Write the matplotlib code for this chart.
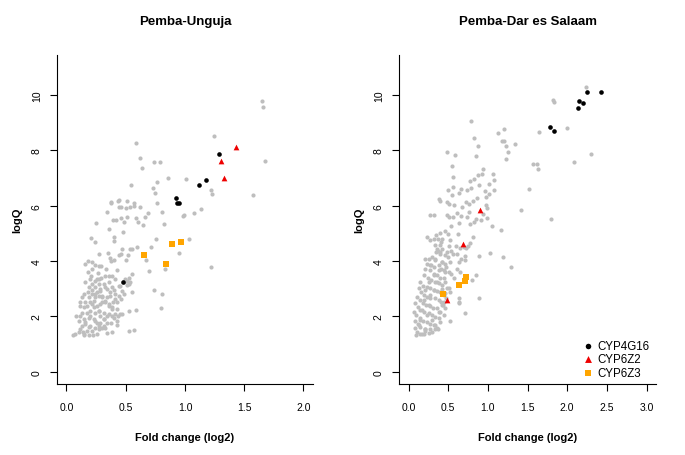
import numpy as np
import matplotlib
matplotlib.use('Agg')
import matplotlib.pyplot as plt

plt.rcParams['font.family'] = ['Liberation Sans', 'DejaVu Sans']

# ------------------------------------------------- Pemba-Unguja
pu_gray_x = [1.650, 1.655, 1.672, 1.577, 1.246, 1.216, 1.227, 1.218,
             0.588, 0.619, 0.636, 0.737, 0.787, 0.854, 1.008, 0.762, 0.728, 0.751, 0.543, 0.762,
             0.804, 0.989, 0.980, 1.073, 1.132, 0.826, 0.686, 0.664, 0.644, 0.602, 0.588, 0.619,
             0.569, 0.566, 0.538, 0.504, 0.459, 0.440, 0.378, 0.378, 0.431, 0.445, 0.510, 0.342,
             0.510, 0.462, 0.392, 0.417, 0.487, 0.249, 0.356, 0.476, 0.401, 0.401, 0.207, 0.241,
             0.754, 0.714, 1.034, 0.947, 0.594, 0.557, 0.538, 0.468, 0.457, 0.440, 0.403, 0.515,
             0.499, 0.277, 0.347, 0.370, 0.378, 0.667, 0.697, 0.835, 0.429, 0.356, 0.555, 0.524,
             0.510, 0.529, 0.737, 0.804, 0.796, 0.588, 0.529, 0.569, 0.529, 0.465, 0.431, 0.426,
             0.375, 0.342, 0.384, 0.325,
             0.179, 0.160, 0.218, 0.244, 0.272, 0.291, 0.331, 0.216, 0.179, 0.263, 0.272, 0.294,
             0.328, 0.207, 0.196, 0.238, 0.218, 0.160, 0.244, 0.193, 0.216, 0.179, 0.146, 0.132,
             0.314, 0.356, 0.328, 0.384, 0.398, 0.364, 0.286, 0.272, 0.244, 0.300, 0.342, 0.370,
             0.412, 0.440, 0.468, 0.482, 0.459, 0.426, 0.389, 0.328, 0.286, 0.258, 0.216, 0.174,
             0.146, 0.118, 0.132, 0.174, 0.202, 0.244, 0.277, 0.314, 0.342, 0.384, 0.412, 0.454,
             0.112, 0.084, 0.104, 0.146, 0.188, 0.230, 0.258, 0.286, 0.314, 0.342, 0.160, 0.132,
             0.202, 0.244, 0.272, 0.300, 0.216, 0.174, 0.140, 0.104, 0.076, 0.056, 0.188, 0.258,
             0.224, 0.146, 0.426, 0.398, 0.510, 0.482, 0.549, 0.538, 0.496, 0.454, 0.412, 0.384,
             0.202, 0.230, 0.160, 0.118, 0.286, 0.314, 0.188, 0.216, 0.258, 0.300, 0.356, 0.384,
             0.426,
             0.258, 0.272, 0.286, 0.244, 0.300, 0.328, 0.356, 0.230, 0.272, 0.202, 0.244, 0.160,
             0.188, 0.118, 0.146, 0.272, 0.314, 0.356, 0.384, 0.412, 0.342, 0.440]
pu_gray_y = [9.77, 9.57, 7.61, 6.37, 8.53, 6.58, 6.43, 3.80,
             8.27, 7.71, 7.35, 7.58, 7.58, 7.00, 6.96, 6.86, 6.65, 6.47, 6.76, 6.10,
             5.78, 5.67, 5.61, 5.75, 5.88, 5.35, 5.75, 5.58, 5.31, 5.40, 5.55, 5.95,
             6.08, 6.00, 5.96, 5.93, 5.95, 5.95, 6.14, 6.10, 6.18, 6.20, 6.16, 5.78,
             5.60, 5.55, 5.48, 5.48, 5.41, 5.36, 5.17, 5.06, 4.87, 4.73, 4.84, 4.67,
             4.80, 4.52, 4.80, 4.30, 4.52, 4.42, 4.43, 4.45, 4.25, 4.22, 4.04, 4.22,
             4.05, 4.24, 4.30, 4.10, 4.00, 4.04, 3.63, 3.73, 3.69, 3.47, 3.52, 3.40,
             3.28, 3.17, 2.94, 2.80, 2.31, 2.24, 2.18, 1.52, 1.48, 2.10, 2.02, 1.69,
             1.76, 1.39, 1.45, 1.57,
             4.01, 3.89, 3.95, 3.86, 3.83, 3.83, 3.71, 3.71, 3.59, 3.57, 3.35, 3.37,
             3.47, 3.47, 3.35, 3.29, 3.17, 3.23, 3.05, 3.05, 2.96, 2.87, 2.81, 2.69,
             3.17, 3.23, 3.05, 3.08, 2.96, 2.89, 2.93, 2.75, 2.69, 2.69, 2.69, 2.75,
             2.81, 2.75, 2.93, 2.81, 2.63, 2.51, 2.51, 2.51, 2.45, 2.39, 2.45, 2.39,
             2.33, 2.39, 2.14, 2.14, 2.20, 2.14, 2.20, 2.14, 2.02, 2.02, 2.08, 2.08,
             2.02, 2.02, 1.84, 1.90, 1.96, 1.90, 1.78, 1.78, 1.66, 1.78, 1.72, 1.66,
             1.66, 1.60, 1.54, 1.60, 1.48, 1.48, 1.42, 1.42, 1.36, 1.33, 1.33, 1.36,
             1.33, 1.33, 1.84, 1.96, 3.13, 3.23, 2.89, 3.23, 3.35, 3.11, 3.35, 3.47,
             2.51, 2.57, 2.51, 2.51, 2.02, 1.90, 2.69, 2.81, 2.87, 2.51, 2.39, 2.27,
             2.27,
             3.35, 3.17, 2.99, 2.81, 2.75, 2.57, 2.45, 2.33, 2.21, 2.03, 1.84, 1.79,
             1.61, 1.54, 1.36, 1.66, 1.91, 2.09, 2.33, 2.63, 2.99, 3.11]
pu_4g16_x = [1.291, 1.115, 1.176, 0.922, 0.933, 0.950, 0.476]
pu_4g16_y = [7.88, 6.76, 6.93, 6.28, 6.11, 6.11, 3.25]
pu_6z2_x = [1.429, 1.303, 1.325]
pu_6z2_y = [8.11, 7.63, 7.01]
pu_6z3_x = [0.894, 0.964, 0.653, 0.843]
pu_6z3_y = [4.63, 4.70, 4.23, 3.88]

# ------------------------------------------------- Pemba-Dar es Salaam
pd_gray_x = [2.238, 1.817, 1.830, 1.998, 1.641, 2.297, 2.082, 1.796, 1.414, 1.519, 1.565, 1.615,
             1.628, 1.342, 1.203, 1.123, 1.174, 1.199, 1.224, 1.254, 1.228, 0.782, 0.825, 0.871,
             0.846, 0.484, 0.585, 0.543, 0.555, 0.942, 0.875, 0.925, 1.064, 1.073, 1.014, 1.081,
             1.018, 0.959, 0.888, 0.782, 0.820, 0.770, 0.732, 0.631, 0.656, 0.555, 0.496, 0.547,
             0.387, 0.395, 0.488, 0.509, 0.576, 0.669, 0.728, 0.757, 0.808, 0.862, 0.980, 0.972,
             0.984, 0.934, 0.993, 1.048, 1.170, 1.191, 1.292, 1.031, 0.883, 0.892, 0.850, 0.812,
             0.774, 0.745, 0.724, 0.778, 0.829, 0.854, 0.913, 0.732, 0.761, 0.660, 0.614, 0.560,
             0.484, 0.505, 0.273, 0.316, 0.416, 0.463, 0.496, 0.530, 0.618, 0.639, 0.526, 0.505,
             0.539, 0.560, 0.610, 0.635, 0.665, 0.707, 0.715, 0.698, 0.602, 0.644, 0.236, 0.273,
             0.316, 0.349, 0.366, 0.400, 0.412, 0.332, 0.391, 0.421, 0.366, 0.391, 0.463, 0.492,
             0.517, 0.471, 0.442, 0.505, 0.539, 0.576, 0.610, 0.652, 0.804, 0.631, 0.631, 0.635,
             0.715, 0.522, 0.505, 0.526, 0.463, 0.421,
             0.210, 0.252, 0.294, 0.337, 0.231, 0.282, 0.324, 0.379, 0.412, 0.210, 0.265, 0.316,
             0.358, 0.400, 0.442, 0.189, 0.240, 0.282, 0.337, 0.379, 0.147, 0.181, 0.231, 0.273,
             0.316, 0.358, 0.400, 0.442, 0.126, 0.156, 0.189, 0.231, 0.273, 0.337, 0.379, 0.408,
             0.105, 0.139, 0.181, 0.223, 0.265, 0.307, 0.358, 0.391, 0.084, 0.114, 0.147, 0.198,
             0.252, 0.294, 0.337, 0.379, 0.063, 0.097, 0.139, 0.181, 0.231, 0.273, 0.316, 0.358,
             0.084, 0.114, 0.147, 0.210, 0.273, 0.337, 0.076, 0.105, 0.168, 0.210, 0.093, 0.139,
             0.198, 0.252, 0.294, 0.366, 0.400, 0.442, 0.463, 0.433, 0.450, 0.475, 0.484, 0.421,
             0.463, 0.349, 0.421, 0.463, 0.484,
             0.358, 0.400, 0.337, 0.421, 0.274, 0.379, 0.463, 0.316, 0.253, 0.358, 0.211, 0.274,
             0.189, 0.253, 0.169, 0.232, 0.148, 0.295, 0.126, 0.211, 0.337, 0.379, 0.421, 0.316]
pd_gray_y = [10.28, 9.81, 9.76, 8.82, 8.65, 7.85, 7.59, 5.50, 5.84, 6.59, 7.49, 7.49,
             7.32, 8.24, 8.78, 8.62, 8.35, 8.35, 8.15, 7.93, 7.67, 9.07, 8.44, 8.17,
             7.80, 7.93, 7.82, 7.42, 7.02, 7.32, 7.09, 7.14, 7.15, 6.94, 6.79, 6.55,
             6.41, 6.52, 6.76, 6.62, 6.96, 6.90, 6.55, 6.44, 6.61, 6.67, 6.55, 6.37,
             6.23, 6.17, 6.14, 6.05, 6.02, 5.94, 6.14, 6.05, 6.16, 6.26, 6.31, 6.02,
             5.92, 5.69, 5.55, 5.25, 5.11, 4.14, 3.77, 4.28, 4.18, 2.68, 3.49, 4.86,
             4.66, 4.55, 4.48, 5.34, 5.42, 5.52, 5.49, 5.60, 5.78, 5.61, 5.73, 5.60,
             5.68, 5.60, 5.68, 5.68, 4.79, 5.08, 4.97, 5.26, 4.97, 5.36, 4.77, 4.55,
             4.37, 4.27, 4.27, 3.96, 4.06, 4.18, 4.04, 4.50, 4.56, 4.48, 4.87, 4.75,
             4.78, 4.93, 4.81, 5.02, 4.69, 4.57, 4.57, 4.45, 4.37, 4.31, 4.21, 4.15,
             3.97, 3.79, 3.67, 3.61, 3.53, 3.39, 3.72, 3.61, 3.31, 2.65, 2.53, 2.47,
             2.11, 1.83, 3.01, 2.89, 2.83, 2.98,
             4.09, 4.09, 4.15, 4.07, 3.91, 3.87, 3.79, 3.85, 3.73, 3.73, 3.67, 3.55,
             3.49, 3.37, 3.37, 3.49, 3.39, 3.31, 3.25, 3.19, 3.25, 3.10, 3.07, 3.01,
             2.95, 2.91, 2.89, 2.77, 3.01, 2.89, 2.79, 2.71, 2.67, 2.67, 2.59, 2.53,
             2.71, 2.59, 2.47, 2.41, 2.38, 2.31, 2.29, 2.17, 2.47, 2.35, 2.23, 2.17,
             2.11, 2.05, 1.99, 1.93, 2.17, 2.05, 1.93, 1.83, 1.81, 1.74, 1.68, 1.59,
             1.83, 1.71, 1.62, 1.56, 1.54, 1.54, 1.59, 1.44, 1.38, 1.47, 1.32, 1.38,
             1.38, 1.40, 1.44, 1.54, 1.81, 2.05, 2.29, 2.41, 2.53, 2.65, 3.01, 3.15,
             3.25, 4.33, 3.97, 3.91, 4.33,
             4.45, 4.27, 4.03, 3.97, 3.85, 3.67, 3.61, 3.49, 3.25, 3.25, 2.95, 2.77,
             2.58, 2.40, 2.22, 2.04, 1.86, 1.86, 1.68, 1.56, 1.68, 2.17, 2.40, 2.95]
pd_4g16_x = [2.255, 2.427, 2.154, 2.204, 2.141, 1.784, 1.834]
pd_4g16_y = [10.10, 10.10, 9.78, 9.71, 9.54, 8.83, 8.69]
pd_6z2_x = [0.896, 0.682, 0.480]
pd_6z2_y = [5.85, 4.60, 2.58]
pd_6z3_x = [0.724, 0.715, 0.635, 0.433]
pd_6z3_y = [3.42, 3.27, 3.12, 2.80]

titles = ['Pemba-Unguja', 'Pemba-Dar es Salaam']
gene_names = ['CYP4G16', 'CYP6Z2', 'CYP6Z3']


def painel(ax, titulo, gx, gy, bx, by, rx, ry, ox, oy, xmax):
    ax.scatter(gx, gy, s=9, c='#BEBEBE', marker='o', linewidths=0)
    ax.scatter(bx, by, s=11, c='black', marker='o', linewidths=0, label=gene_names[0])
    ax.scatter(rx, ry, s=17, c='#EE0000', marker='^', linewidths=0, label=gene_names[1])
    ax.scatter(ox, oy, s=15, c='#FFA500', marker='s', linewidths=0, label=gene_names[2])

    ext = xmax * 0.04
    ax.set_xlim(-ext, xmax + ext)
    ax.set_ylim(-0.44, 11.44)
    ticks = np.arange(0, xmax + 0.01, 0.5)
    ax.set_xticks(ticks)
    ax.set_xticklabels(['%.1f' % v for v in ticks])
    ax.set_yticks([0, 2, 4, 6, 8, 10])
    ax.set_yticklabels(['0', '2', '4', '6', '8', '10'], rotation=90, va='center')

    for s in ['top', 'right']:
        ax.spines[s].set_visible(False)
    for s in ['left', 'bottom']:
        ax.spines[s].set_linewidth(0.8)
    ax.tick_params(length=5, width=0.8, labelsize=7.5, pad=8)
    ax.tick_params(axis='y', pad=6)

    ax.set_xlabel('Fold change (log2)', fontsize=8, fontweight='bold', labelpad=14)
    ax.set_ylabel('logQ', fontsize=8, fontweight='bold', labelpad=7)
    ax.set_title(titulo, fontsize=9.5, fontweight='bold', pad=22)


fig = plt.figure(figsize=(6.85, 4.56), dpi=100)
fig.set_facecolor('white')

ax1 = fig.add_axes([0.0832, 0.1557, 0.3737, 0.7215])
painel(ax1, titles[0], pu_gray_x, pu_gray_y, pu_4g16_x, pu_4g16_y,
       pu_6z2_x, pu_6z2_y, pu_6z3_x, pu_6z3_y, 2.0)

ax2 = fig.add_axes([0.5825, 0.1557, 0.3752, 0.7215])
painel(ax2, titles[1], pd_gray_x, pd_gray_y, pd_4g16_x, pd_4g16_y,
       pd_6z2_x, pd_6z2_y, pd_6z3_x, pd_6z3_y, 3.0)

ax2.legend(loc='lower right', bbox_to_anchor=(1.0, -0.005), frameon=False,
           fontsize=8.3, handletextpad=0.3, labelspacing=0.12, borderaxespad=0.2,
           markerscale=1.2, handlelength=1.0)

fig.savefig('out.png', dpi=100)
